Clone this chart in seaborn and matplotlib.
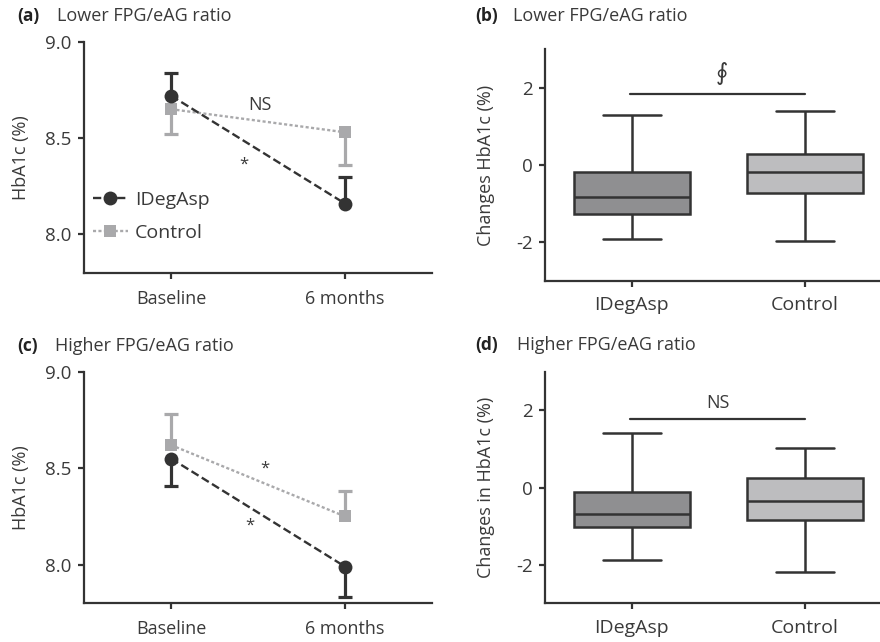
import numpy as np
import pandas as pd
import seaborn as sns
import matplotlib.pyplot as plt

# timepoints for the line panels
times = ["Baseline", "6 months"]

# (a) lower FPG/eAG ratio, mean HbA1c (%)
a_idegasp = [8.72, 8.16]
a_idegasp_err = [0.12, 0.14]      # drawn upwards
a_control = [8.65, 8.53]
a_control_err = [0.13, 0.17]      # drawn downwards

# (c) higher FPG/eAG ratio
c_idegasp = [8.55, 7.99]
c_idegasp_err = [0.14, 0.16]      # drawn downwards
c_control = [8.62, 8.25]
c_control_err = [0.16, 0.13]      # drawn upwards

# box panels: min, q1, median, q3, max of change in HbA1c (%)
groups = ["IDegAsp", "Control"]
b_idegasp = [-1.91, -1.26, -0.82, -0.17, 1.31]
b_control = [-1.96, -0.72, -0.17, 0.28, 1.40]
d_idegasp = [-1.89, -1.02, -0.69, -0.12, 1.40]
d_control = [-2.19, -0.84, -0.34, 0.25, 1.03]

DARK = "#333333"
LIGHT = "#a9a9ab"
TXT = "#3a3a3a"

sns.set_style("ticks")
plt.rcParams["font.family"] = ["Open Sans", "DejaVu Sans"]
plt.rcParams["axes.unicode_minus"] = False
plt.rcParams["axes.edgecolor"] = DARK
plt.rcParams["axes.linewidth"] = 1.6
plt.rcParams["xtick.color"] = DARK
plt.rcParams["ytick.color"] = DARK
plt.rcParams["xtick.labelcolor"] = TXT
plt.rcParams["ytick.labelcolor"] = TXT
plt.rcParams["xtick.major.width"] = 1.6
plt.rcParams["ytick.major.width"] = 1.6
plt.rcParams["xtick.major.size"] = 4
plt.rcParams["ytick.major.size"] = 4

fig = plt.figure(figsize=(8.8, 6.42), dpi=100)
ax_a = fig.add_axes([0.0955, 0.5748, 0.3955, 0.3602])
ax_b = fig.add_axes([0.6193, 0.5623, 0.3807, 0.3609])
ax_c = fig.add_axes([0.0955, 0.0603, 0.3955, 0.3607])
ax_d = fig.add_axes([0.6193, 0.0603, 0.3807, 0.3607])


def one_sided(ax, x, y, err, up, color, z):
    yerr = [[0] * len(err), err] if up else [err, [0] * len(err)]
    _, caps, _ = ax.errorbar(x, y, yerr=yerr, fmt="none", ecolor=color,
                             elinewidth=2.3, capsize=5, capthick=2.3, zorder=z)
    # hide the zero-length side's cap
    caps[0 if up else 1].set_visible(False)


def line_panel(ax, idg, idg_err, ctl, ctl_err, idg_up, legend=False):
    x = np.arange(len(times))
    # control first so IDegAsp sits on top
    one_sided(ax, x, ctl, ctl_err, not idg_up, LIGHT, 2)
    sns.lineplot(x=x, y=ctl, ax=ax, color=LIGHT, linestyle=(0, (1.3, 1.0)),
                 linewidth=1.7, marker="s", markersize=9, markeredgewidth=0,
                 label="Control", zorder=3)
    one_sided(ax, x, idg, idg_err, idg_up, DARK, 4)
    sns.lineplot(x=x, y=idg, ax=ax, color=DARK, linestyle=(0, (3.5, 1.6)),
                 linewidth=1.7, marker="o", markersize=10, markeredgewidth=0,
                 label="IDegAsp", zorder=5)
    ax.set_xlim(-0.5, 1.5)
    ax.set_ylim(7.8, 9.0)
    ax.set_yticks([8.0, 8.5, 9.0])
    ax.set_yticklabels(["8.0", "8.5", "9.0"], fontsize=13.5)
    ax.set_xticks(x)
    ax.set_xticklabels(times, fontsize=13)
    ax.tick_params(axis="x", pad=8)
    ax.tick_params(axis="y", pad=5)
    ax.set_xlabel("")
    ax.set_ylabel("HbA1c (%)", fontsize=13, color=TXT, labelpad=11)
    sns.despine(ax=ax)
    if legend:
        h, l = ax.get_legend_handles_labels()
        ax.legend(h[::-1], l[::-1], loc="lower left", bbox_to_anchor=(-0.025, 0.06),
                  frameon=False, fontsize=14, handlelength=1.8,
                  handletextpad=0.35, labelspacing=0.75, labelcolor=TXT)
    else:
        ax.get_legend().remove()


def box_panel(ax, idg, ctl, ylabel):
    df = pd.DataFrame({"group": [groups[0]] * len(idg) + [groups[1]] * len(ctl),
                       "value": idg + ctl})
    sns.boxplot(data=df, x="group", y="value", hue="group", ax=ax,
                palette=["#8f8f91", "#bdbdbf"], saturation=1, whis=np.inf,
                width=0.67, linewidth=1.8, linecolor=DARK, legend=False)
    ax.set_xlim(-0.5, 1.433)
    ax.set_ylim(-3, 3)
    ax.set_yticks([-2, 0, 2])
    ax.set_yticklabels(["-2", "0", "2"], fontsize=13.5)
    ax.tick_params(axis="x", labelsize=14, pad=7)
    ax.tick_params(axis="y", pad=5)
    ax.set_xlabel("")
    ax.set_ylabel(ylabel, fontsize=13, color=TXT, labelpad=15)
    sns.despine(ax=ax)
    return ax


line_panel(ax_a, a_idegasp, a_idegasp_err, a_control, a_control_err, True, legend=True)
ax_a.text(0.51, 8.67, "NS", fontsize=13, color=TXT, ha="center", va="center")
ax_a.text(0.42, 8.36, "*", fontsize=12, color=TXT, ha="center", va="center")

line_panel(ax_c, c_idegasp, c_idegasp_err, c_control, c_control_err, False)
ax_c.text(0.54, 8.50, "*", fontsize=12, color=TXT, ha="center", va="center")
ax_c.text(0.45, 8.20, "*", fontsize=12, color=TXT, ha="center", va="center")

box_panel(ax_b, b_idegasp, b_control, "Changes HbA1c (%)")
ax_b.plot([-0.01, 1.0], [1.84, 1.84], color=DARK, lw=1.6)
ax_b.text(0.52, 2.38, "\u222e", fontsize=17, color=TXT, ha="center", va="center",
          style="italic", family=["DejaVu Sans"])

box_panel(ax_d, d_idegasp, d_control, "Changes in HbA1c (%)")
ax_d.plot([-0.01, 1.0], [1.77, 1.77], color=DARK, lw=1.6)
ax_d.text(0.5, 2.2, "NS", fontsize=13, color=TXT, ha="center", va="center")

# panel headers
heads = [(17, 16, "(a)", 57, "Lower FPG/eAG ratio"),
         (475, 16, "(b)", 513, "Lower FPG/eAG ratio"),
         (17, 346, "(c)", 55, "Higher FPG/eAG ratio"),
         (475, 345, "(d)", 517, "Higher FPG/eAG ratio")]
for xl, yy, lab, xt, title in heads:
    fig.text(xl / 880, 1 - yy / 642, lab, fontsize=12.5, fontweight="bold",
             color="#222222", va="center", ha="left")
    fig.text(xt / 880, 1 - yy / 642, title, fontsize=13, color=TXT,
             va="center", ha="left")

fig.savefig("out.png", dpi=100)
